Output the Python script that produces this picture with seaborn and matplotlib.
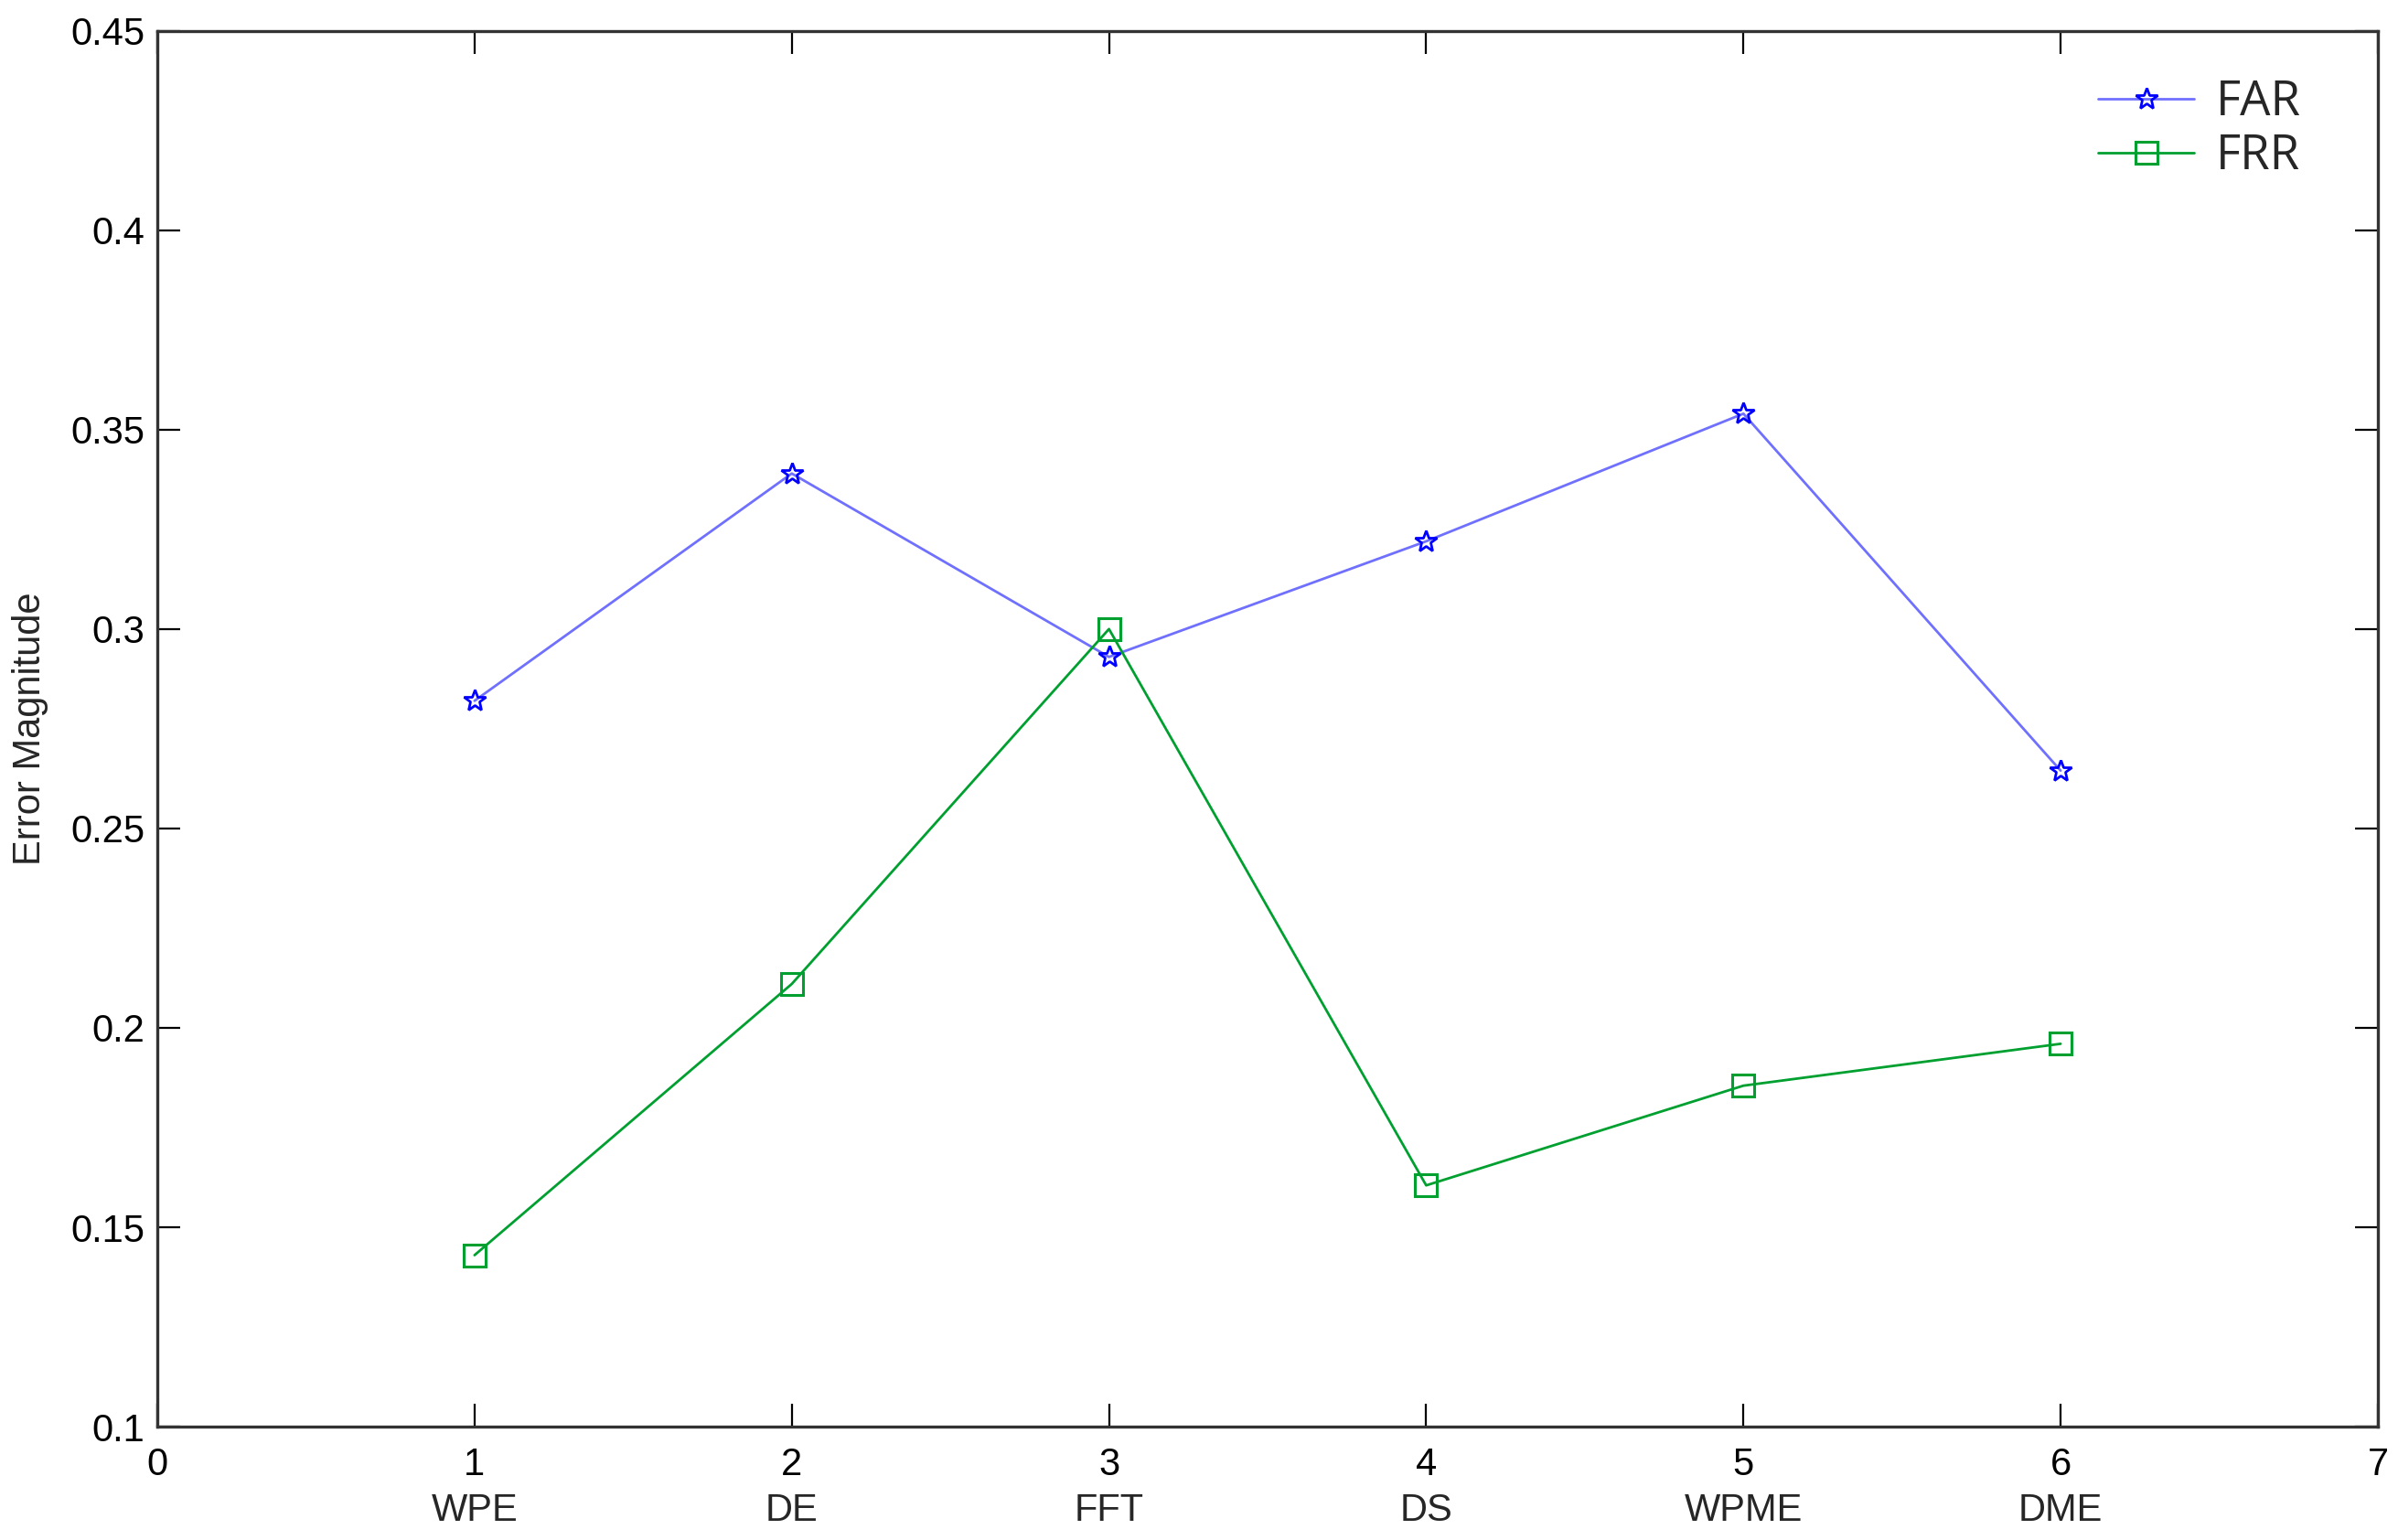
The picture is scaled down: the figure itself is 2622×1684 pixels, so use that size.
import matplotlib
matplotlib.use("Agg")
import matplotlib.pyplot as plt
import matplotlib.transforms as mtransforms
import seaborn as sns
import pandas as pd

# values
positions = [1, 2, 3, 4, 5, 6]
categories = ["WPE", "DE", "FFT", "DS", "WPME", "DME"]
far = [0.282, 0.339, 0.293, 0.322, 0.354, 0.2645]
frr = [0.143, 0.211, 0.300, 0.1605, 0.1855, 0.196]
x_ticks = [0, 1, 2, 3, 4, 5, 6, 7]
y_ticks = [0.1, 0.15, 0.2, 0.25, 0.3, 0.35, 0.4, 0.45]

sns.set_style("ticks")
plt.rcParams['font.family'] = ['Liberation Sans', 'DejaVu Sans']

df = pd.DataFrame({"x": positions, "FAR": far, "FRR": frr})

fig = plt.figure(figsize=(13.11, 8.42), dpi=200)
ax = fig.add_axes([0.0656, 0.0736, 0.926, 0.9064])

sns.lineplot(data=df, x="x", y="FAR", ax=ax, color="#7070ff", linewidth=1.0,
             marker="*", markersize=9, markerfacecolor="none",
             markeredgecolor="#0000ff", markeredgewidth=1.0, label="FAR")
sns.lineplot(data=df, x="x", y="FRR", ax=ax, color="#00a030", linewidth=1.0,
             marker="s", markersize=8.5, markerfacecolor="none",
             markeredgecolor="#00a030", markeredgewidth=1.1, label="FRR")

ax.set_xlim(0, 7)
ax.set_ylim(0.1, 0.45)
ax.set_xticks(x_ticks)
ax.set_yticks(y_ticks)
ax.set_xticklabels([str(t) for t in x_ticks])
ax.set_yticklabels([f"{t:g}" for t in y_ticks])
ax.tick_params(direction="in", length=9, width=0.8, top=True, right=True,
               labelsize=15, colors="black")
ax.tick_params(axis="y", pad=5)
ax.tick_params(axis="x", pad=8)

for s in ax.spines.values():
    s.set_visible(True)
    s.set_linewidth(1.2)
    s.set_color("#333333")

trans = mtransforms.blended_transform_factory(ax.transData, ax.transAxes)
for p, c in zip(positions, categories):
    ax.text(p, -0.06, c, transform=trans, ha="center", va="center", fontsize=15)

ax.set_xlabel("")
ax.set_ylabel("Error Magnitude", fontsize=15)
ax.yaxis.set_label_coords(-0.049, 0.5)

leg = ax.legend(loc="upper right", bbox_to_anchor=(0.985, 0.997), frameon=False,
                handlelength=2.0, handletextpad=0.45, labelspacing=0.1,
                prop={"family": ["Open Sans", "DejaVu Sans"], "size": 19})

fig.savefig("out.png", dpi=200)
